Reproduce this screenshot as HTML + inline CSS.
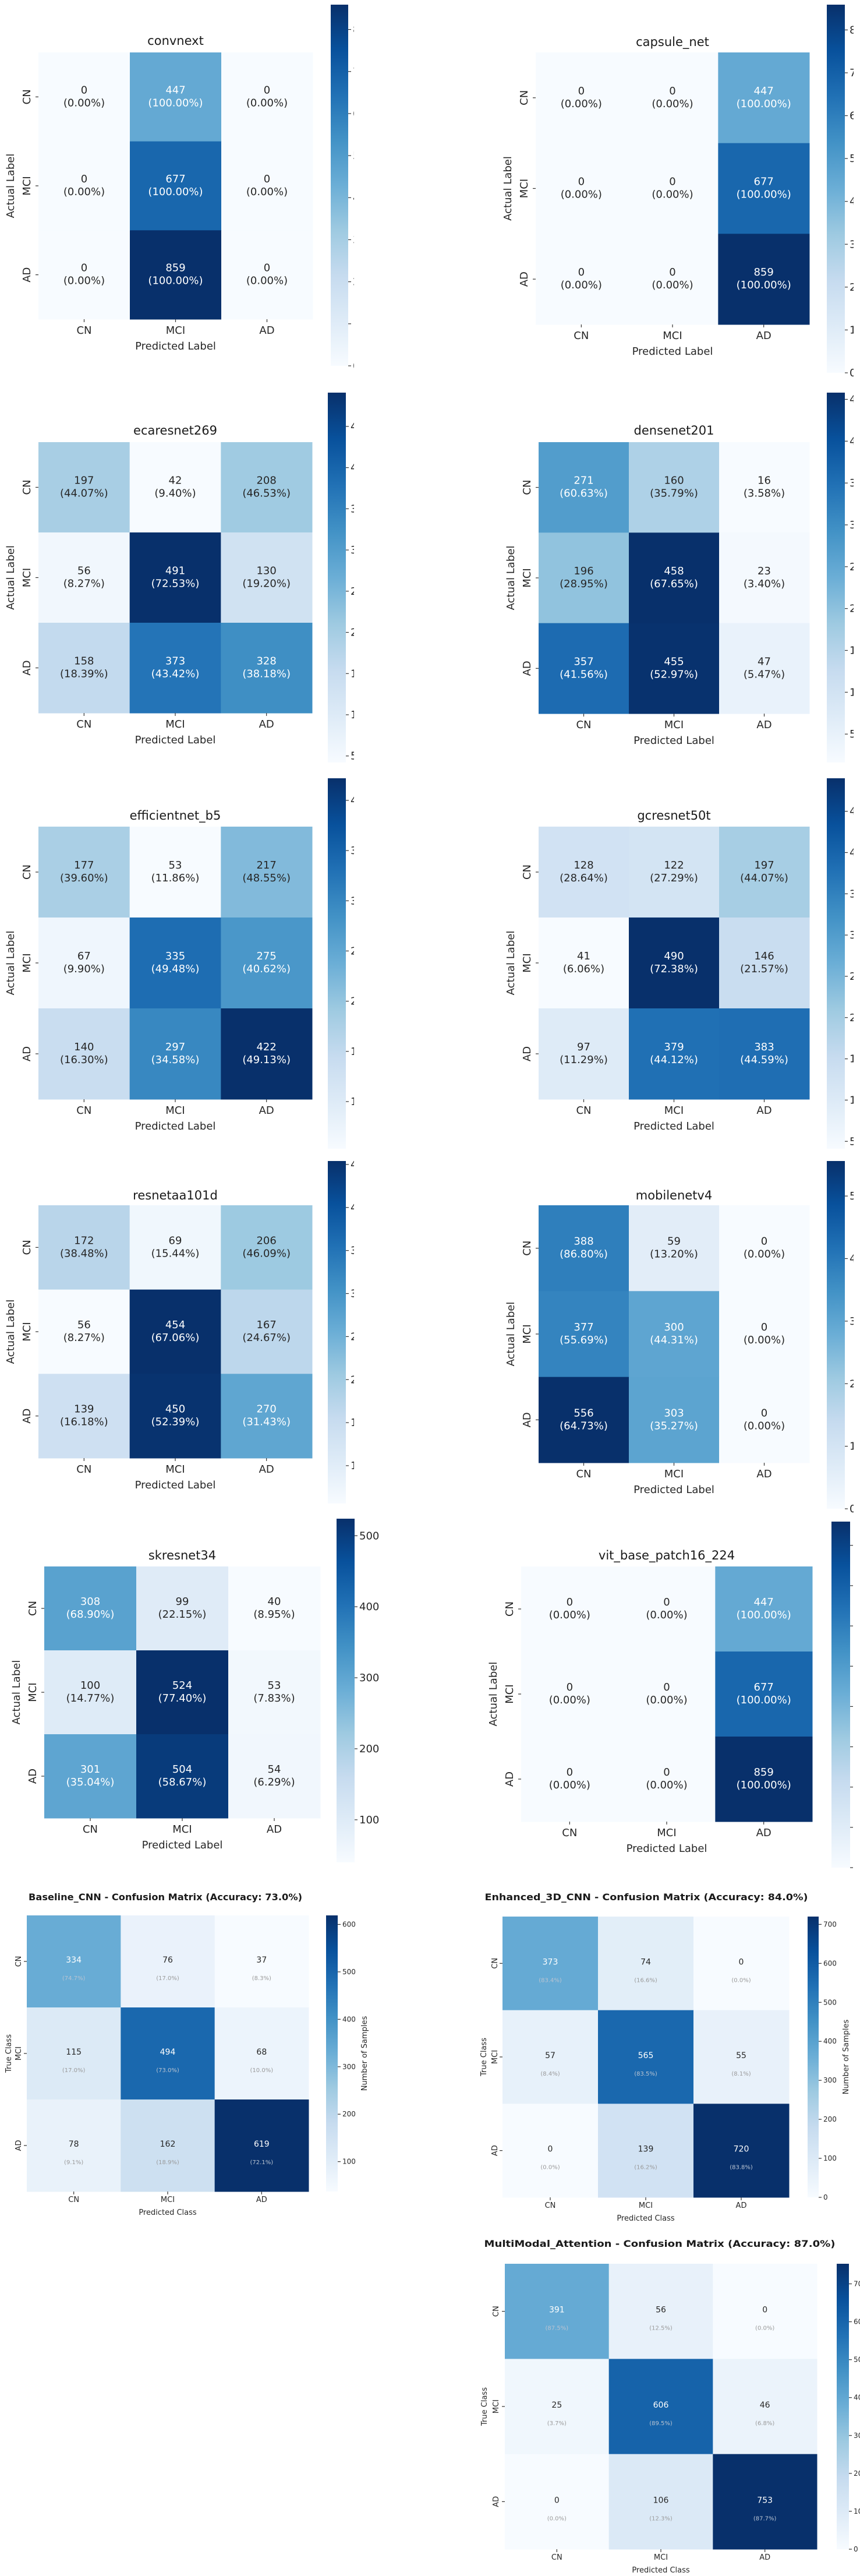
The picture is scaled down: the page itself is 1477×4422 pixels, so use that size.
<!DOCTYPE html>
<html><head><meta charset="utf-8"><title>Confusion matrices</title>
<style>
html,body{margin:0;padding:0;background:#fff;}
svg{display:block;font-family:"DejaVu Sans","Liberation Sans",sans-serif;}
</style></head>
<body>
<svg id="fig" width="1477" height="4422" viewBox="0 0 1477 4422" xmlns="http://www.w3.org/2000/svg">
<defs>
<clipPath id="clipL"><rect x="0" y="0" width="608" height="4422"/></clipPath>
<clipPath id="clipSK"><rect x="0" y="0" width="652" height="4422"/></clipPath>
<clipPath id="clipR"><rect x="0" y="0" width="1466" height="4422"/></clipPath>
<clipPath id="clipB"><rect x="0" y="0" width="1477" height="4422"/></clipPath>
</defs>
</svg>
<script>
// ---------- data ----------
const classes = ["CN", "MCI", "AD"];
const convnextCounts = [[0,447,0],[0,677,0],[0,859,0]];
const capsuleCounts = [[0,0,447],[0,0,677],[0,0,859]];
const ecaresnetCounts = [[197,42,208],[56,491,130],[158,373,328]];
const densenetCounts = [[271,160,16],[196,458,23],[357,455,47]];
const efficientnetCounts = [[177,53,217],[67,335,275],[140,297,422]];
const gcresnetCounts = [[128,122,197],[41,490,146],[97,379,383]];
const resnetaaCounts = [[172,69,206],[56,454,167],[139,450,270]];
const mobilenetCounts = [[388,59,0],[377,300,0],[556,303,0]];
const skresnetCounts = [[308,99,40],[100,524,53],[301,504,54]];
const vitCounts = [[0,0,447],[0,0,677],[0,0,859]];
const baselineCounts = [[334,76,37],[115,494,68],[78,162,619]];
const enhancedCounts = [[373,74,0],[57,565,55],[0,139,720]];
const multimodalCounts = [[391,56,0],[25,606,46],[0,106,753]];

// ---------- layout (positions only) ----------
const panels = [
 {id:"convnext", title:"convnext", data:convnextCounts, style:"top", h:[66,90,471,458], cb:[568,8,30,620], clip:"clipL", ty:77},
 {id:"capsule-net", title:"capsule_net", data:capsuleCounts, style:"top", h:[920,90,470,467], cb:[1420,8,31,632], clip:"clipR", ty:79},
 {id:"ecaresnet269", title:"ecaresnet269", data:ecaresnetCounts, style:"top", h:[66,759,470,465], cb:[563,674,31,635], clip:"clipL", ty:746},
 {id:"densenet201", title:"densenet201", data:densenetCounts, style:"top", h:[925,759,465,466], cb:[1420,674,31,635], clip:"clipR", ty:746},
 {id:"efficientnet-b5", title:"efficientnet_b5", data:efficientnetCounts, style:"top", h:[66,1419,470,468], cb:[563,1336,31,636], clip:"clipL", ty:1407},
 {id:"gcresnet50t", title:"gcresnet50t", data:gcresnetCounts, style:"top", h:[925,1419,465,468], cb:[1420,1336,31,636], clip:"clipR", ty:1407},
 {id:"resnetaa101d", title:"resnetaa101d", data:resnetaaCounts, style:"top", h:[66,2069,470,434], cb:[563,1993,31,588], clip:"clipL", ty:2059},
 {id:"mobilenetv4", title:"mobilenetv4", data:mobilenetCounts, style:"top", h:[925,2069,465,442], cb:[1420,1993,31,597], clip:"clipR", ty:2059},
 {id:"skresnet34", title:"skresnet34", data:skresnetCounts, style:"top", h:[76,2689,474,432], cb:[578,2607,31,590], clip:"clipSK", ty:2677},
 {id:"vit-base-patch16-224", title:"vit_base_patch16_224", data:vitCounts, style:"top", h:[895,2689,500,438], cb:[1428,2612,32,594], clip:"clipR", ty:2677},
 {id:"baseline-cnn", title:"Baseline_CNN - Confusion Matrix (Accuracy: 73.0%)", data:baselineCounts, style:"bottom", h:[46,3288,484,474], cb:[560,3288,20,474], clip:"clipB", ty:3262, tx:284, tw:470, ylx:14, ytx:31, cbl:630},
 {id:"enhanced-3d-cnn", title:"Enhanced_3D_CNN - Confusion Matrix (Accuracy: 84.0%)", data:enhancedCounts, style:"bottom", h:[863,3290,492,482], cb:[1387,3290,19,482], clip:"clipB", ty:3262, tx:1110, tw:555, ylx:830, ytx:849, cbl:1457},
 {id:"multimodal-attention", title:"MultiModal_Attention - Confusion Matrix (Accuracy: 87.0%)", data:multimodalCounts, style:"bottom", h:[867,3886,536,490], cb:[1437,3886,21,490], clip:"clipB", ty:3857, tx:1133, tw:603, ylx:831, ytx:851, cbl:null}
];

// ---------- helpers ----------
const NS = "http://www.w3.org/2000/svg";
const svg = document.getElementById("fig");
const blues = ["#f7fbff","#deebf7","#c6dbef","#9ecae1","#6baed6","#4292c6","#2171b5","#08519c","#08306b"];
function hex2rgb(h){return [parseInt(h.slice(1,3),16),parseInt(h.slice(3,5),16),parseInt(h.slice(5,7),16)];}
function cmap(t){
  t=Math.max(0,Math.min(1,t));
  const p=t*(blues.length-1), i=Math.min(blues.length-2,Math.floor(p)), f=p-i;
  const a=hex2rgb(blues[i]), b=hex2rgb(blues[i+1]);
  return a.map((v,k)=>Math.round(v+(b[k]-v)*f));
}
function rgbStr(c){return "rgb("+c.join(",")+")";}
function lum(c){
  const l=c.map(v=>{v/=255;return v<=0.03928?v/12.92:Math.pow((v+0.055)/1.055,2.4);});
  return 0.2126*l[0]+0.7152*l[1]+0.0722*l[2];
}
function mk(tag, attrs, parent){
  const e=document.createElementNS(NS,tag);
  for(const k in attrs) e.setAttribute(k,attrs[k]);
  (parent||svg).appendChild(e);
  return e;
}
function niceStep(range){
  const mults=[1,2,2.5,5];
  let p=Math.pow(10,Math.floor(Math.log10(Math.max(range,1)))-1);
  for(let k=0;k<6;k++){
    for(const m of mults){const s=m*p; if(range/s<=9) return s;}
    p*=10;
  }
  return range;
}

// ---------- drawing ----------
panels.forEach(pn=>{
  const g=mk("g",{});
  
  
  const [hx,hy,hw,hh]=pn.h, [cx,cy,cw,ch]=pn.cb;
  const flat=pn.data.flat();
  const vmin=Math.min(...flat), vmax=Math.max(...flat);
  const top = pn.style==="top";
  const xScale = j => hx + hw*(j+0.5)/classes.length;
  const yScale = i => hy + hh*(i+0.5)/classes.length;
  const cellW = hw/classes.length, cellH = hh/classes.length;

  const t=mk("text",{x: top? hx+hw/2 : pn.tx, y: pn.ty, "text-anchor":"middle", "font-size": top?21:16, "font-weight": top?"normal":"bold", fill:"#1a1a1a"}, g);
  if(!top){ t.setAttribute("textLength", pn.tw); t.setAttribute("lengthAdjust","spacingAndGlyphs"); }
  t.textContent=pn.title;
  
  

  pn.data.forEach((row,i)=>{
    const rs=row.reduce((a,b)=>a+b,0);
    row.forEach((v,j)=>{
      const col=cmap((v-vmin)/((vmax-vmin)||1));
      const r=mk("rect",{x:hx+j*cellW, y:hy+i*cellH, width:cellW+0.5, height:cellH+0.5, fill:rgbStr(col)}, g);
      
      
      const dark = lum(col) <= 0.408;
      const pct = rs? v/rs*100 : 0;
      const txtCol = dark? "#ffffff" : "#262626";
      if(top){
        const a=mk("text",{x:xScale(j), y:yScale(i)-6, "text-anchor":"middle","font-size":18, fill:txtCol}, g);
        a.textContent=String(v);
        
        
        const b=mk("text",{x:xScale(j), y:yScale(i)+16, "text-anchor":"middle","font-size":18, fill:txtCol}, g);
        b.textContent="("+pct.toFixed(2)+"%)";
        
        
      } else {
        const a=mk("text",{x:xScale(j), y:yScale(i)+2, "text-anchor":"middle","font-size":14, fill:txtCol}, g);
        a.textContent=String(v);
        
        
        const b=mk("text",{x:xScale(j), y:yScale(i)+32, "text-anchor":"middle","font-size":10, fill: dark?"#b9c4d2":"#9a9a9a"}, g);
        b.textContent="("+pct.toFixed(1)+"%)";
        
        
      }
    });
  });

  const fs = top?18:13;
  classes.forEach((c,j)=>{
    mk("line",{x1:xScale(j),x2:xScale(j),y1:hy+hh,y2:hy+hh+5,stroke:"#333","stroke-width":1.2}, g);
    const xt=mk("text",{x:xScale(j), y:hy+hh+(top?25:18), "text-anchor":"middle","font-size":fs, fill:"#262626"}, g);
    xt.textContent=c;
    
    
    mk("line",{x1:hx-5,x2:hx,y1:yScale(j),y2:yScale(j),stroke:"#333","stroke-width":1.2}, g);
    const ytx = top? hx-14 : pn.ytx+5;
    const yt=mk("text",{x:ytx, y:yScale(j), "text-anchor":"middle","font-size":fs, fill:"#262626", transform:"rotate(-90 "+ytx+" "+yScale(j)+")"}, g);
    yt.textContent=c;
    
    
  });
  const xl=mk("text",{x:hx+hw/2, y:hy+hh+(top?52:40), "text-anchor":"middle","font-size":fs, fill:"#262626"}, g);
  xl.textContent= top? "Predicted Label" : "Predicted Class";
  
  
  const ylx = top? hx-42 : pn.ylx+5;
  const yl=mk("text",{x:ylx, y:hy+hh/2, "text-anchor":"middle","font-size":fs, fill:"#262626", transform:"rotate(-90 "+ylx+" "+(hy+hh/2)+")"}, g);
  yl.textContent= top? "Actual Label" : "True Class";
  
  

  const gid="grad-"+pn.id;
  const defs=svg.querySelector("defs");
  const lg=mk("linearGradient",{id:gid,x1:0,y1:1,x2:0,y2:0}, defs);
  blues.forEach((c,k)=>mk("stop",{offset:(k/(blues.length-1)).toFixed(3),"stop-color":c}, lg));
  const cbr=mk("rect",{x:cx,y:cy,width:cw,height:ch,fill:"url(#"+gid+")"}, g);
  
  
  const cbY = v => cy + ch - (v-vmin)/((vmax-vmin)||1)*ch;
  const step=niceStep(vmax-vmin);
  const tg=mk("g",{"clip-path":"url(#"+pn.clip+")"}, g);
  for(let v=Math.ceil(vmin/step)*step; v<=vmax+1e-9; v+=step){
    const y=cbY(v);
    mk("line",{x1:cx+cw,x2:cx+cw+5,y1:y,y2:y,stroke:"#333","stroke-width":1.2}, tg);
    const lt=mk("text",{x:cx+cw+8,y:y+(top?6:4),"font-size":top?18:12, fill:"#262626"}, tg);
    lt.textContent=String(Math.round(v));
    
    
  }
  if(!top && pn.cbl){
    const cyc=cy+ch/2;
    const cl=mk("text",{x:pn.cbl,y:cyc,"text-anchor":"middle","font-size":13,fill:"#262626",transform:"rotate(-90 "+pn.cbl+" "+cyc+")"}, g);
    cl.textContent="Number of Samples";
    
    
  }
});
</script>
</body></html>
